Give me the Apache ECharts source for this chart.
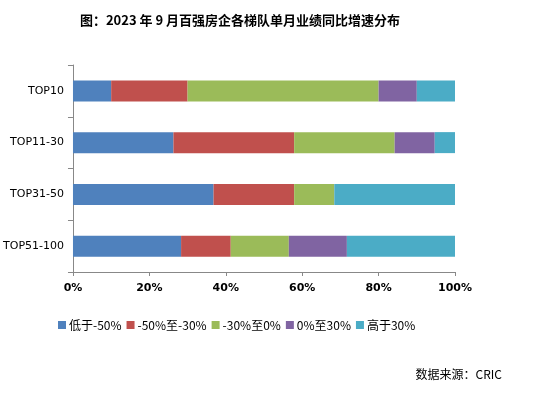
<!DOCTYPE html>
<html>
<head>
<meta charset="utf-8">
<script src="https://cdn.jsdelivr.net/npm/echarts@6/dist/echarts.min.js"></script>
<style>
  html, body { margin: 0; padding: 0; background: #fff; }
  #chart { width: 537px; height: 396px; }
</style>
</head>
<body>
<div id="chart"></div>
<script>
const categories = ["TOP10", "TOP11-30", "TOP31-50", "TOP51-100"];
const seriesNames = ["低于-50%", "-50%至-30%", "-30%至0%", "0%至30%", "高于30%"];
const below50 = [10, 26.3, 36.8, 28.3];
const m50to30 = [20, 31.6, 21.1, 13.0];
const m30to0 = [50, 26.3, 10.5, 15.2];
const p0to30 = [10, 10.5, 0, 15.2];
const above30 = [10, 5.3, 31.6, 28.3];
const xTicks = [0, 20, 40, 60, 80, 100];

const colors = ["#4F81BD", "#C0504D", "#9BBB59", "#8064A2", "#4BACC6"];
const values = [below50, m50to30, m30to0, p0to30, above30];

const chart = echarts.init(document.getElementById("chart"));

const options = {
  animation: false,
  color: colors,
  title: [
    {
      text: "图：2023 年 9 月百强房企各梯队单月业绩同比增速分布",
      left: 235,
      textAlign: "center",
      top: 9,
      textStyle: { fontFamily: "Noto Sans CJK SC", fontSize: 13, fontWeight: "bold", color: "#000" },
    },
    {
      text: "数据来源：CRIC",
      right: 30,
      top: 363,
      textStyle: { fontFamily: "Noto Sans CJK SC", fontSize: 12, fontWeight: "normal", color: "#000" },
    },
  ],
  legend: {
    data: seriesNames,
    top: 314,
    left: 53,
    itemWidth: 8,
    itemHeight: 8,
    itemGap: 5,
    icon: "rect",
    textStyle: { fontFamily: "Noto Sans CJK SC", fontSize: 12, color: "#000", padding: [0, 0, 0, -2] },
  },
  grid: {
    left: 72,
    right: 82,
    top: 65,
    bottom: 124,
    containLabel: false,
  },
  xAxis: {
    type: "value",
    min: 0,
    max: 100,
    interval: 20,
    axisLine: { show: true, lineStyle: { color: "#888" } },
    axisTick: { show: true, length: 4, lineStyle: { color: "#888" } },
    splitLine: { show: false },
    axisLabel: {
      formatter: (v) => (xTicks.includes(v) ? v + "%" : ""),
      fontFamily: "DejaVu Sans",
      fontSize: 11,
      fontWeight: "bold",
      color: "#000",
      margin: 11,
    },
  },
  yAxis: {
    type: "category",
    data: categories,
    inverse: true,
    axisLine: { show: true, lineStyle: { color: "#888" } },
    axisTick: { show: true, length: 5, lineStyle: { color: "#888" } },
    axisLabel: { fontFamily: "DejaVu Sans", fontSize: 11, color: "#000", margin: 9 },
  },
  series: seriesNames.map((name, i) => ({
    name,
    type: "bar",
    stack: "total",
    barWidth: 21,
    data: values[i],
  })),
};

chart.setOption(options);
</script>
</body>
</html>
